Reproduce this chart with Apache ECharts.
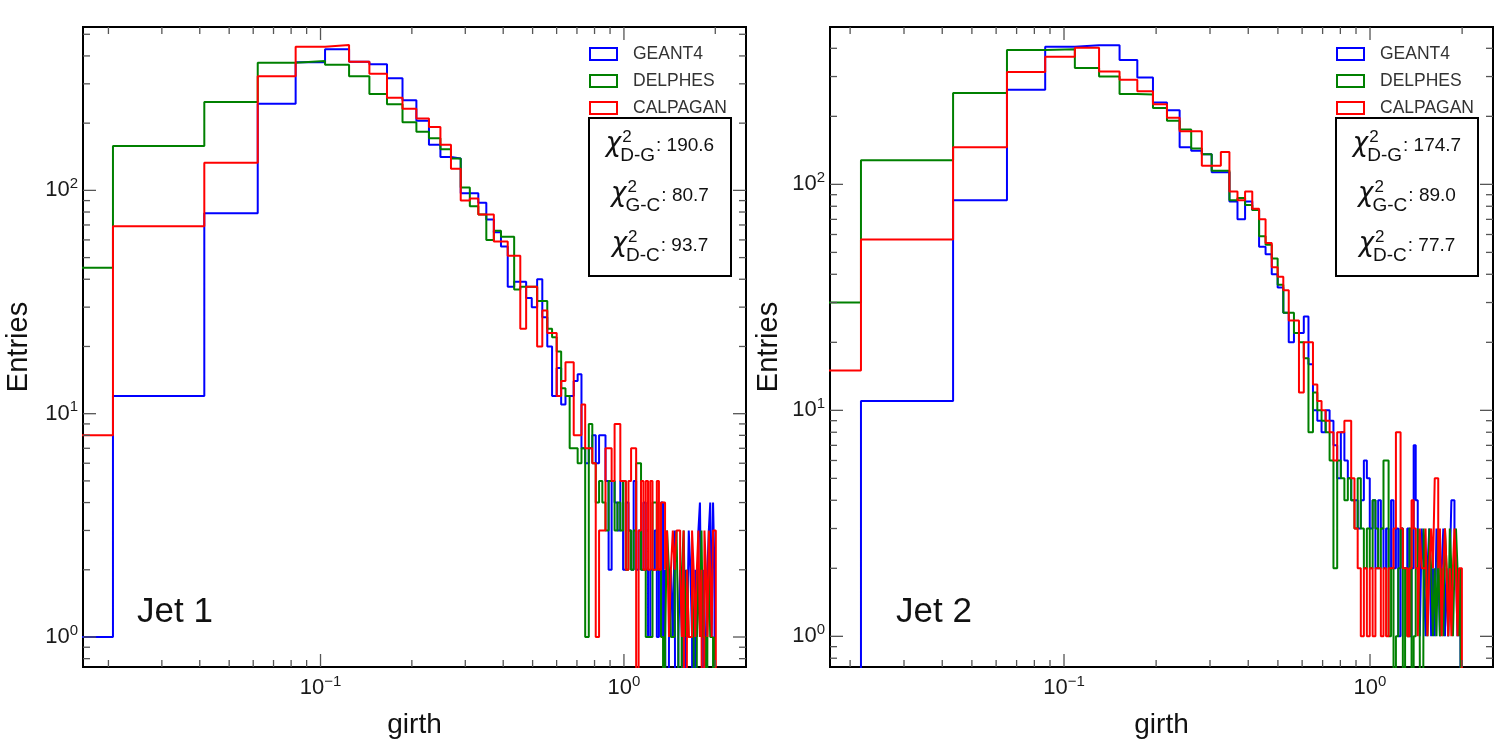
<!DOCTYPE html>
<html lang="en">
<head>
<meta charset="UTF-8">
<title>girth - GEANT4 / DELPHES / CALPAGAN</title>
<script src="https://cdn.jsdelivr.net/npm/echarts@6/dist/echarts.min.js"></script>
<style>
  html, body { margin: 0; padding: 0; background: #fff; }
  #chart { width: 1505px; height: 744px; }
</style>
</head>
<body>
<div id="chart"></div>
<script type="text/javascript">
// histogram bin widths (bins start at 0)
var jet1BinWidth = 0.0207;
var jet2BinWidth = 0.0217;

var seriesNames = ['GEANT4', 'DELPHES', 'CALPAGAN'];
var seriesColors = ['#0000ff', '#008000', '#ff0000'];

// Jet 1 counts per bin
var jet1Geant4 = [1, 12, 79, 244, 375, 428, 377, 367, 318, 253,
  205, 160, 141, 139, 97, 97, 88, 74, 65, 56,
  37, 39, 39, 33, 30, 40, 27, 20, 12, 16,
  11, 12, 12, 14, 15, 7, 6, 7, 8, 6,
  8, 8, 5, 2, 5, 4, 3, 5, 2, 4,
  3, 2, 5, 2, 3, 2, 4, 2, 1, 2,
  2, 3, 1, 2, 4, 1, 2, 0, 1, 2,
  1, 3, 0, 1, 2, 1, 0, 2, 1, 3,
  2, 1, 0, 2, 1, 3, 4, 1, 2, 0,
  1, 2, 3, 4, 1, 4, 2, 0];
var jet1Delphes = [45, 158, 249, 373, 380, 365, 324, 270, 243, 202,
  183, 171, 153, 139, 103, 85, 78, 60, 66, 62,
  62, 36, 37, 37, 37, 32, 32, 24, 22, 19,
  13, 12, 7, 7, 6, 7, 1, 9, 6, 4,
  5, 4, 3, 5, 5, 3, 4, 3, 5, 2,
  3, 2, 3, 6, 6, 2, 2, 1, 1, 1,
  4, 4, 2, 2, 1, 0, 1, 3, 2, 1,
  1, 2, 3, 1, 0, 2, 3, 1, 2, 1,
  1, 2, 1, 0, 1, 2, 1, 3, 1, 1,
  0, 1, 2, 1, 1, 0, 1, 0];
var jet1Calpagan = [8, 69, 133, 324, 440, 448, 377, 333, 260, 232,
  210, 192, 160, 125, 90, 92, 78, 78, 59, 59,
  51, 51, 24, 37, 37, 20, 29, 23, 23, 12,
  14, 17, 17, 8, 8, 11, 7, 7, 6, 1,
  3, 3, 7, 7, 5, 9, 9, 5, 5, 2,
  5, 7, 7, 0, 3, 5, 2, 5, 2, 5,
  2, 2, 5, 2, 4, 4, 2, 3, 1, 2,
  3, 2, 3, 3, 2, 1, 3, 0, 2, 1,
  1, 3, 2, 1, 2, 3, 1, 2, 0, 3,
  2, 1, 3, 2, 1, 3, 3, 0];

// Jet 2 counts per bin
var jet2Geant4 = [0, 11, 85, 262, 406, 413, 413, 355, 297, 230,
  213, 146, 141, 136, 113, 113, 84, 70, 84, 77,
  53, 49, 40, 35, 27, 20, 22, 22, 26, 16,
  10, 9, 8, 10, 9, 7, 5, 8, 6, 5,
  4, 4, 3, 4, 6, 5, 3, 4, 2, 4,
  3, 2, 3, 2, 4, 2, 3, 1, 3, 2,
  2, 3, 1, 2, 7, 4, 2, 1, 3, 2,
  1, 2, 3, 1, 2, 1, 3, 2, 1, 2,
  3, 1, 2, 1, 2, 4, 4, 3, 2, 1,
  2, 1];
var jet2Delphes = [30, 128, 254, 393, 396, 327, 300, 251, 250, 218,
  191, 175, 144, 136, 115, 115, 85, 87, 81, 77,
  59, 54, 47, 36, 27, 27, 22, 20, 17, 8,
  12, 10, 9, 8, 6, 2, 6, 5, 4, 5,
  4, 3, 5, 3, 2, 3, 2, 4, 3, 2,
  3, 6, 6, 1, 2, 0, 1, 2, 3, 0,
  2, 1, 3, 0, 1, 2, 3, 1, 0, 3,
  2, 1, 3, 2, 1, 2, 1, 3, 1, 2,
  1, 3, 2, 1, 3, 2, 1, 2, 3, 2,
  1, 2];
var jet2Calpagan = [15, 57, 146, 314, 367, 402, 316, 290, 258, 226,
  197, 172, 172, 121, 121, 139, 93, 85, 93, 78,
  70, 55, 43, 39, 34, 25, 25, 12, 20, 20,
  13, 11, 10, 9, 8, 6, 8, 8, 9, 9,
  5, 3, 2, 1, 2, 1, 2, 1, 2, 2,
  1, 2, 1, 2, 2, 3, 8, 8, 3, 2,
  2, 1, 2, 4, 3, 2, 1, 3, 2, 2,
  3, 1, 2, 3, 2, 5, 5, 2, 3, 1,
  2, 3, 2, 1, 2, 1, 2, 3, 2, 1,
  2, 2];

var chi2Pairs = ['D-G', 'G-C', 'D-C'];
var jet1Chi2 = ['190.6', '80.7', '93.7'];
var jet2Chi2 = ['174.7', '89.0', '77.7'];
var jetLabels = ['Jet 1', 'Jet 2'];

// axis ranges
var jet1XRange = [0.01649, 2.525];
var jet1YRange = [0.734, 539];
var jet2XRange = [0.01719, 2.523];
var jet2YRange = [0.7316, 497];

var FONT = '"Liberation Sans", Arial, Helvetica, sans-serif';

// one point per bin left edge, step drawn to the next edge
function histPoints(counts, width) {
    var pts = [];
    for (var i = 0; i < counts.length; i++) {
        var x = i === 0 ? width * 0.5 : i * width;   // edge 0 can't go on a log axis
        pts.push([x, counts[i] > 0 ? counts[i] : 1e-3]);
    }
    pts.push([counts.length * width, 1e-3]);
    return pts;
}

function histSeries(k, counts, width, idx) {
    return {
        type: 'line',
        name: seriesNames[k],
        xAxisIndex: idx,
        yAxisIndex: idx,
        data: histPoints(counts, width),
        step: 'end',
        symbol: 'none',
        showSymbol: false,
        clip: true,
        silent: true,
        z: 3 + k,
        lineStyle: { color: seriesColors[k], width: 2 },
        itemStyle: { color: seriesColors[k] },
        emphasis: { disabled: true }
    };
}

// decade labels like 10^-1
function powLabel(v) {
    var l = Math.log10(v);
    var e = Math.round(l);
    if (Math.abs(l - e) > 1e-6) return '';
    return '{b|10}{e|' + (e < 0 ? '\u2212' + (-e) : e) + '}';
}
var labelRich = {
    b: { fontFamily: FONT, fontSize: 22, color: '#1a1a1a' },
    e: { fontFamily: FONT, fontSize: 15, color: '#1a1a1a', padding: [0, 0, 13, 0] }
};

// tick marks on all four sides (major at decades, minor at 2..9)
function tickItems(xr, yr) {
    var items = [];
    var e, m, v;
    for (e = -2; e <= 1; e++) {
        for (m = 1; m <= 9; m++) {
            v = m * Math.pow(10, e);
            if (v > xr[0] && v < xr[1]) items.push([v, yr[0], 0, m === 1 ? 1 : 0]);
        }
    }
    for (e = -1; e <= 2; e++) {
        for (m = 1; m <= 9; m++) {
            v = m * Math.pow(10, e);
            if (v > yr[0] && v < yr[1]) items.push([xr[0], v, 1, m === 1 ? 1 : 0]);
        }
    }
    return items;
}
function renderTick(params, api) {
    var cs = params.coordSys;
    var p = api.coord([api.value(0), api.value(1)]);
    var len = api.value(3) ? 13 : 7;
    var st = { stroke: '#555', lineWidth: 1.3 };
    if (api.value(2) === 0) {
        var x = p[0];
        return { type: 'group', children: [
            { type: 'line', shape: { x1: x, y1: cs.y + cs.height, x2: x, y2: cs.y + cs.height - len }, style: st },
            { type: 'line', shape: { x1: x, y1: cs.y, x2: x, y2: cs.y + len }, style: st }
        ] };
    }
    var y = p[1];
    return { type: 'group', children: [
        { type: 'line', shape: { x1: cs.x, y1: y, x2: cs.x + len, y2: y }, style: st },
        { type: 'line', shape: { x1: cs.x + cs.width, y1: y, x2: cs.x + cs.width - len, y2: y }, style: st }
    ] };
}

function xAxisFor(idx, r) {
    return {
        type: 'log', logBase: 10, gridIndex: idx, min: r[0], max: r[1],
        name: 'girth', nameLocation: 'middle', nameGap: 44,
        nameTextStyle: { fontFamily: FONT, fontSize: 28, color: '#111' },
        axisLine: { show: false }, axisTick: { show: false }, splitLine: { show: false },
        minorTick: { show: false },
        axisLabel: { margin: 7, formatter: powLabel, rich: labelRich, showMinLabel: false, showMaxLabel: false }
    };
}
function yAxisFor(idx, r, gap) {
    return {
        type: 'log', logBase: 10, gridIndex: idx, min: r[0], max: r[1],
        name: 'Entries', nameLocation: 'middle', nameGap: gap,
        nameTextStyle: { fontFamily: FONT, fontSize: 29, color: '#111' },
        axisLine: { show: false }, axisTick: { show: false }, splitLine: { show: false },
        minorTick: { show: false },
        axisLabel: { margin: 5, formatter: powLabel, rich: labelRich, showMinLabel: false, showMaxLabel: false }
    };
}

function legendFor(left) {
    return {
        left: left, top: 45, orient: 'vertical', padding: 0,
        itemWidth: 27, itemHeight: 12, itemGap: 9,
        icon: 'rect', selectedMode: false,
        textStyle: { fontFamily: FONT, fontSize: 17.5, color: '#333', padding: [0, 0, 0, 11] },
        data: seriesNames.map(function (n, k) {
            return { name: n, itemStyle: { color: '#fff', borderColor: seriesColors[k], borderWidth: 2 } };
        })
    };
}

var measureCtx = document.createElement('canvas').getContext('2d');
function textWidth(str, font) {
    measureCtx.font = font;
    return measureCtx.measureText(str).width;
}

// chi-square box, rows centred in the frame
function chiBox(left, top, values) {
    var W = 142, H = 158;
    var chiFont = 'italic 26px "DejaVu Sans"';
    var supFont = '17px "Liberation Sans"';
    var subFont = '19px "Liberation Sans"';
    var numFont = '19px "Liberation Sans"';
    var children = [{ type: 'rect', shape: { x: 0, y: 0, width: W, height: H },
        style: { fill: '#fff', stroke: '#000', lineWidth: 2 } }];
    for (var r = 0; r < 3; r++) {
        var rowY = 26 + r * 50;
        var num = ': ' + values[r];
        var wChi = textWidth('\u03c7', chiFont);
        var wSub = textWidth(chi2Pairs[r], subFont);
        var wNum = textWidth(num, numFont);
        var x0 = W / 2 - (wChi + wSub + wNum) / 2;
        children.push(
            { type: 'text', x: x0, y: rowY, style: { text: '\u03c7', font: chiFont, fill: '#111', verticalAlign: 'middle' } },
            { type: 'text', x: x0 + wChi + 1, y: rowY - 7, style: { text: '2', font: supFont, fill: '#111', verticalAlign: 'middle' } },
            { type: 'text', x: x0 + wChi - 1, y: rowY + 12, style: { text: chi2Pairs[r], font: subFont, fill: '#111', verticalAlign: 'middle' } },
            { type: 'text', x: x0 + wChi + wSub, y: rowY + 2, style: { text: num, font: numFont, fill: '#111', verticalAlign: 'middle' } }
        );
    }
    return { type: 'group', x: left, y: top, children: children };
}

var chart = echarts.init(document.getElementById('chart'));

var option = {
    animation: false,
    backgroundColor: '#fff',
    grid: [
        { left: 83, top: 27, width: 663, height: 646, show: true, borderColor: '#000', borderWidth: 2 },
        { left: 830, top: 27, width: 663, height: 646, show: true, borderColor: '#000', borderWidth: 2 }
    ],
    xAxis: [xAxisFor(0, jet1XRange), xAxisFor(1, jet2XRange)],
    yAxis: [yAxisFor(0, jet1YRange, 50), yAxisFor(1, jet2YRange, 47)],
    legend: [legendFor(589), legendFor(1336)],
    series: [
        histSeries(0, jet1Geant4, jet1BinWidth, 0),
        histSeries(1, jet1Delphes, jet1BinWidth, 0),
        histSeries(2, jet1Calpagan, jet1BinWidth, 0),
        histSeries(0, jet2Geant4, jet2BinWidth, 1),
        histSeries(1, jet2Delphes, jet2BinWidth, 1),
        histSeries(2, jet2Calpagan, jet2BinWidth, 1),
        { type: 'custom', xAxisIndex: 0, yAxisIndex: 0, silent: true, clip: false, z: 10,
          renderItem: renderTick, data: tickItems(jet1XRange, jet1YRange) },
        { type: 'custom', xAxisIndex: 1, yAxisIndex: 1, silent: true, clip: false, z: 10,
          renderItem: renderTick, data: tickItems(jet2XRange, jet2YRange) }
    ],
    graphic: [
        chiBox(589, 118, jet1Chi2),
        chiBox(1336, 118, jet2Chi2),
        { type: 'text', x: 137, y: 612, style: { text: jetLabels[0], font: '35px "Liberation Sans"', fill: '#111', verticalAlign: 'middle' } },
        { type: 'text', x: 896, y: 612, style: { text: jetLabels[1], font: '35px "Liberation Sans"', fill: '#111', verticalAlign: 'middle' } }
    ]
};

chart.setOption(option);
</script>
</body>
</html>
